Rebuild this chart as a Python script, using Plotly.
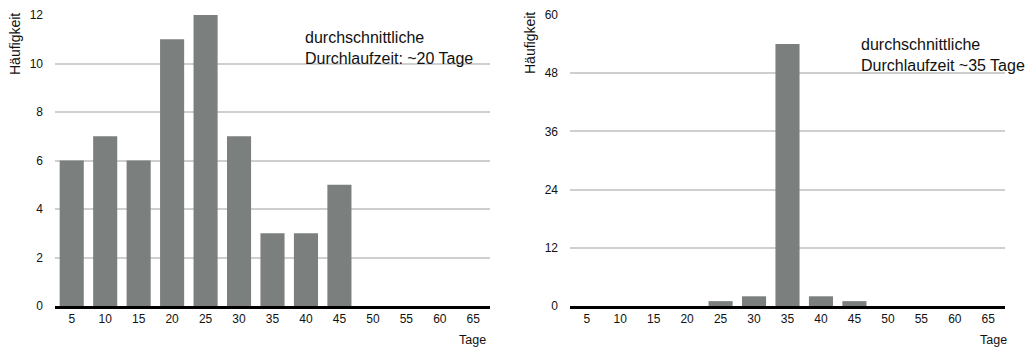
import plotly.graph_objects as go

days = [5, 10, 15, 20, 25, 30, 35, 40, 45, 50, 55, 60, 65]
freq_left = [6, 7, 6, 11, 12, 7, 3, 3, 5, 0, 0, 0, 0]
freq_right = [0, 0, 0, 0, 1, 2, 54, 2, 1, 0, 0, 0, 0]
left_yticks = [0, 2, 4, 6, 8, 10, 12]
right_yticks = [0, 12, 24, 36, 48, 60]
note_left = "durchschnittliche<br>Durchlaufzeit: ~20 Tage"
note_right = "durchschnittliche<br>Durchlaufzeit ~35 Tage"

W, H = 1028, 347
FONT = "Liberation Sans, Arial, Helvetica, sans-serif"
BAR = "#7b7f7e"

fig = go.Figure()
fig.add_trace(go.Bar(x=days, y=freq_left, marker=dict(color=BAR, line=dict(width=0)),
                     xaxis="x", yaxis="y", width=3.6))
fig.add_trace(go.Bar(x=days, y=freq_right, marker=dict(color=BAR, line=dict(width=0)),
                     xaxis="x2", yaxis="y2", width=3.6))

ydom = [(H - 306) / H, (H - 15) / H]
xd1 = [55 / W, 490 / W]
xd2 = [570 / W, 1005 / W]

xcommon = dict(range=[2.5, 67.5], tickvals=days, ticktext=[str(d) for d in days],
               showgrid=False, zeroline=False, showline=True, linecolor="black",
               linewidth=3, ticks="", tickfont=dict(size=12, color="#111"),
               fixedrange=True, automargin=False)
ycommon = dict(showgrid=True, gridcolor="#cfcfcf", gridwidth=1.5, zeroline=False,
               showline=False, ticks="", tickfont=dict(size=12, color="#111"),
               ticklabelstandoff=11, automargin=False, fixedrange=True)


def px_ann(text, x, y, **kw):
    d = dict(text=text, x=x / W, y=(H - y) / H, xref="paper", yref="paper",
             showarrow=False, xanchor="center", yanchor="middle")
    d.update(kw)
    return d


fig.update_layout(
    width=W, height=H,
    autosize=False,
    margin=dict(l=0, r=0, t=0, b=0, pad=0, autoexpand=False),
    paper_bgcolor="white", plot_bgcolor="white",
    showlegend=False,
    font=dict(family=FONT, color="#111"),
    xaxis=dict(domain=xd1, anchor="y", **xcommon),
    yaxis=dict(domain=ydom, anchor="x", range=[0, 12], tickvals=left_yticks, **ycommon),
    xaxis2=dict(domain=xd2, anchor="y2", **xcommon),
    yaxis2=dict(domain=ydom, anchor="x2", range=[0, 60], tickvals=right_yticks, **ycommon),
    annotations=[
        px_ann("Häufigkeit", 15, 44, textangle=-90, font=dict(size=14)),
        px_ann("Häufigkeit", 530, 43, textangle=-90, font=dict(size=14)),
        px_ann("Tage", 472, 340, font=dict(size=12.5)),
        px_ann("Tage", 993, 340, font=dict(size=12.5)),
        px_ann(note_left, 303, 48, xanchor="left", align="left", font=dict(size=16)),
        px_ann(note_right, 859, 55, xanchor="left", align="left", font=dict(size=16)),
    ],
)

fig.write_html("out.html", config={"displayModeBar": False},
               post_script="document.body.style.margin='0';document.body.style.overflow='hidden';")
